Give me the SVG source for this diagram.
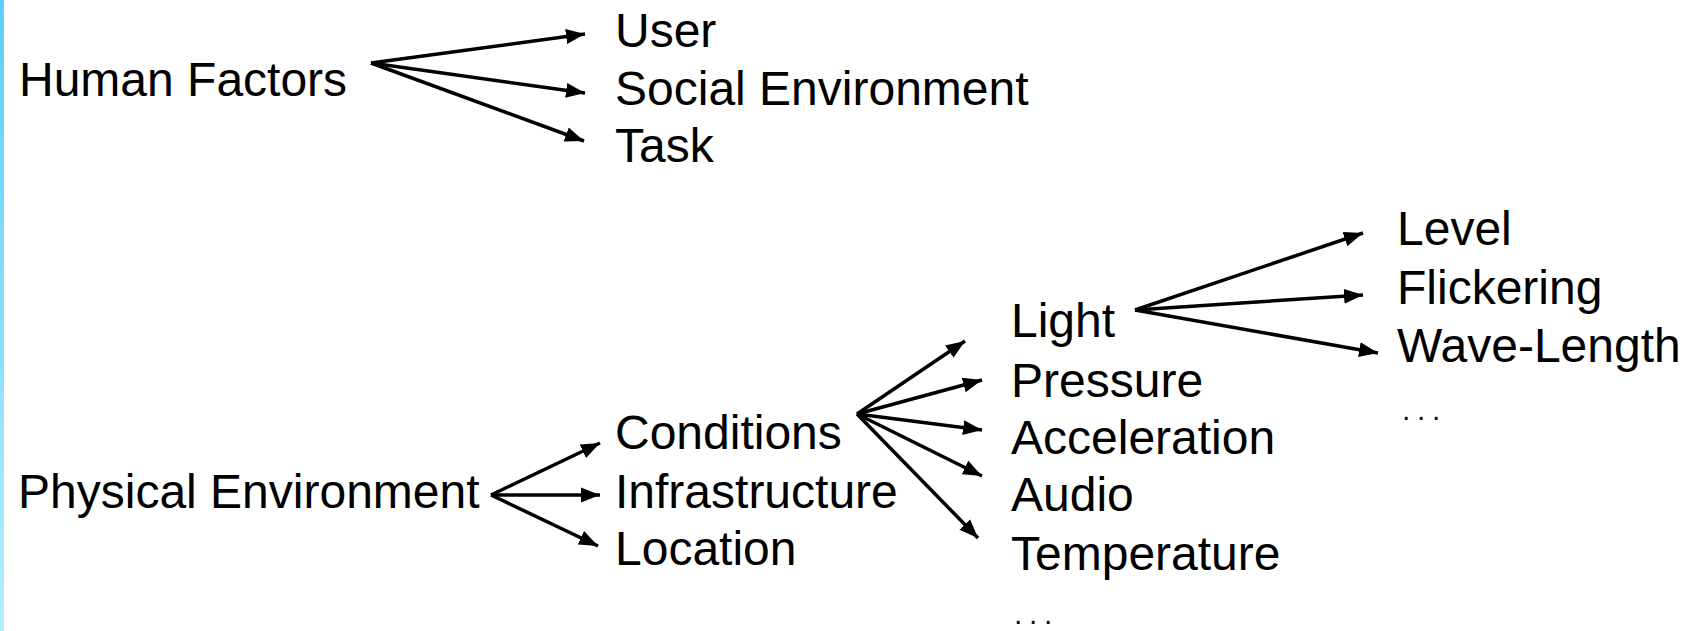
<svg xmlns="http://www.w3.org/2000/svg" width="1695" height="631" viewBox="0 0 1695 631">
<style>
.t{font-family:"Liberation Sans",Arial,sans-serif;font-size:48px;fill:#000}
.d{font-family:"Liberation Sans",Arial,sans-serif;font-size:30px;letter-spacing:6.7px;fill:#111}
.c{stroke:#000;stroke-width:3.5;fill:none;marker-end:url(#ah)}
</style>
<defs>
<linearGradient id="strip" x1="0" y1="0" x2="0" y2="1">
<stop offset="0" stop-color="#5ccfff"/>
<stop offset="1" stop-color="#b3edff"/>
</linearGradient>
<marker id="ah" markerUnits="userSpaceOnUse" markerWidth="20" markerHeight="16" refX="19" refY="8" orient="auto">
<path d="M0,0.5 L19,8 L0,15.5 Z" fill="#000"/>
</marker>
</defs>
<rect width="1695" height="631" fill="#fff"/>
<rect x="0" y="0" width="4" height="631" fill="url(#strip)"/>
<g id="connectors">
<line class="c" x1="371" y1="63" x2="585" y2="34"/>
<line class="c" x1="371" y1="63" x2="585" y2="93"/>
<line class="c" x1="371" y1="63" x2="584" y2="141"/>
<line class="c" x1="491" y1="495" x2="600" y2="443"/>
<line class="c" x1="491" y1="495" x2="600" y2="495"/>
<line class="c" x1="491" y1="495" x2="598" y2="546"/>
<line class="c" x1="857" y1="414" x2="965" y2="341"/>
<line class="c" x1="857" y1="414" x2="982" y2="380"/>
<line class="c" x1="857" y1="414" x2="982" y2="430"/>
<line class="c" x1="857" y1="414" x2="982" y2="476"/>
<line class="c" x1="857" y1="414" x2="978" y2="538"/>
<line class="c" x1="1135" y1="310" x2="1363" y2="233"/>
<line class="c" x1="1135" y1="310" x2="1363" y2="295"/>
<line class="c" x1="1135" y1="310" x2="1378" y2="353"/>
</g>
<g id="human-factors"><text class="t" x="19" y="96">Human Factors</text></g>
<g id="user"><text class="t" x="615" y="47">User</text></g>
<g id="social-environment"><text class="t" x="615" y="105">Social Environment</text></g>
<g id="task"><text class="t" x="615" y="162">Task</text></g>
<g id="physical-environment"><text class="t" x="18" y="508">Physical Environment</text></g>
<g id="conditions"><text class="t" x="615" y="449">Conditions</text></g>
<g id="infrastructure"><text class="t" x="615" y="508">Infrastructure</text></g>
<g id="location"><text class="t" x="615" y="565">Location</text></g>
<g id="light"><text class="t" x="1011" y="337">Light</text></g>
<g id="pressure"><text class="t" x="1011" y="397">Pressure</text></g>
<g id="acceleration"><text class="t" x="1011" y="454">Acceleration</text></g>
<g id="audio"><text class="t" x="1011" y="511">Audio</text></g>
<g id="temperature"><text class="t" x="1011" y="570">Temperature</text></g>
<g id="more-conditions"><text class="d" x="1014" y="624">...</text></g>
<g id="level"><text class="t" x="1397" y="245">Level</text></g>
<g id="flickering"><text class="t" x="1397" y="304">Flickering</text></g>
<g id="wave-length"><text class="t" x="1397" y="362">Wave-Length</text></g>
<g id="more-light"><text class="d" x="1402" y="420">...</text></g>
</svg>
